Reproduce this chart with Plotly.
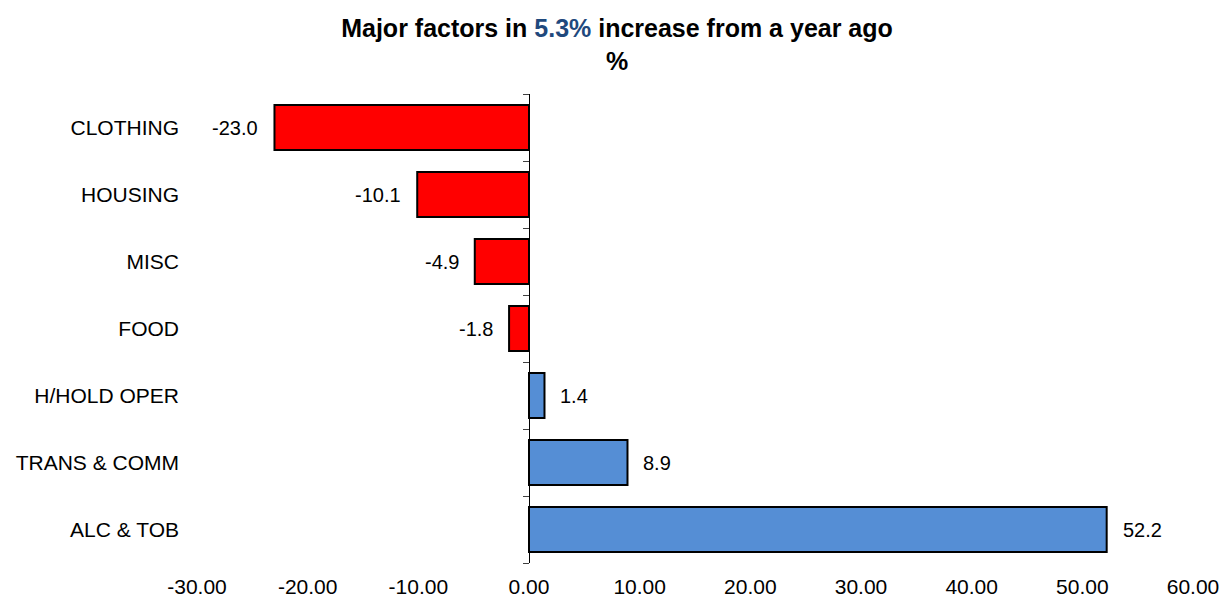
import plotly.graph_objects as go

categories = ["CLOTHING", "HOUSING", "MISC", "FOOD", "H/HOLD OPER", "TRANS & COMM", "ALC & TOB"]
values = [-23.0, -10.1, -4.9, -1.8, 1.4, 8.9, 52.2]
x_ticks = [-30, -20, -10, 0, 10, 20, 30, 40, 50, 60]
x_tick_labels = ["-30.00", "-20.00", "-10.00", "0.00", "10.00", "20.00", "30.00", "40.00", "50.00", "60.00"]

FONT = "Arial, Liberation Sans, sans-serif"
NEG_COLOR = "#FF0000"
POS_COLOR = "#558ED5"

colors = [NEG_COLOR if v < 0 else POS_COLOR for v in values]

fig = go.Figure()
fig.add_trace(go.Bar(
    x=values, y=categories, orientation="h",
    marker=dict(color=colors, line=dict(color="#000000", width=2)),
    hoverinfo="x+y", showlegend=False,
))
# invisible helper trace so the secondary (zero-line) axis is drawn
fig.add_trace(go.Scatter(
    x=[0], y=[0], yaxis="y2", mode="markers",
    marker=dict(opacity=0), hoverinfo="skip", showlegend=False,
))

for c, v in zip(categories, values):
    fig.add_annotation(
        x=v, y=c, text=f"{v:.1f}", showarrow=False,
        xanchor="right" if v < 0 else "left",
        xshift=-14 if v < 0 else 14,
        font=dict(family=FONT, size=20, color="#000000"),
    )

n = len(categories)
fig.update_layout(
    width=1223, height=598,
    margin=dict(l=197, r=30, t=94, b=35, autoexpand=False),
    paper_bgcolor="white", plot_bgcolor="white",
    bargap=0.33,
    title=dict(
        text="<b>Major factors in <span style='color:#1F497D'>5.3%</span> increase from a year ago<br>%</b>",
        x=0.5045, xref="container", xanchor="center",
        y=1 - 37 / 598, yref="container", yanchor="top",
        font=dict(family=FONT, size=25, color="#000000"),
    ),
    xaxis=dict(
        range=[-30, 60], tickvals=x_ticks, ticktext=x_tick_labels,
        showgrid=False, zeroline=False, showline=False, ticks="",
        tickfont=dict(family=FONT, size=21, color="#000000"),
        ticklabelstandoff=9, fixedrange=True,
    ),
    yaxis=dict(
        type="category", categoryorder="array", categoryarray=categories,
        autorange="reversed",
        showgrid=False, zeroline=False, showline=False, ticks="",
        tickfont=dict(family=FONT, size=21, color="#000000"),
        ticklabelstandoff=17, fixedrange=True,
    ),
    yaxis2=dict(
        overlaying="y", anchor="free", position=1 / 3, side="left",
        range=[-0.5, n - 0.5],
        tickvals=[i - 0.5 for i in range(n + 1)],
        showticklabels=False, showgrid=False, zeroline=False,
        showline=True, linecolor="#000000", linewidth=1,
        ticks="outside", ticklen=6, tickcolor="#404040", tickwidth=1,
        fixedrange=True,
    ),
)

fig.write_html("out.html")
